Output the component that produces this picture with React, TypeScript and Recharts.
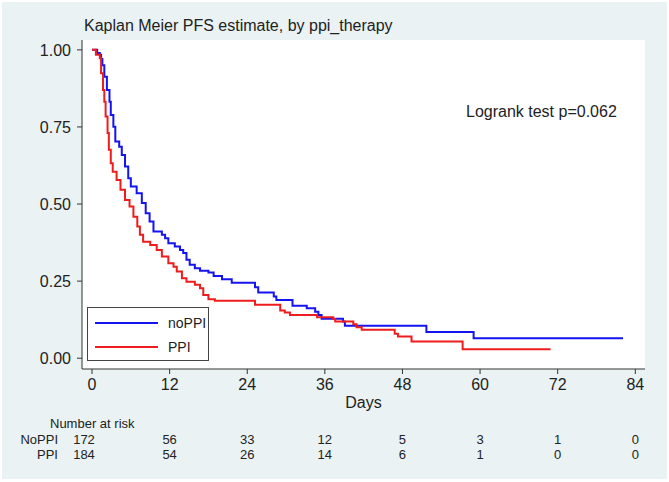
import React from 'react';
import { LineChart, Line, XAxis, YAxis } from 'recharts';

const W = 669;
const H = 482;
const PL = 82;
const PR = 645;
const PT = 40;
const PB = 369;
const X_DOMAIN: [number, number] = [-1.55, 85.5];
const Y_DOMAIN: [number, number] = [-0.035, 1.032];

const xTicks = [0, 12, 24, 36, 48, 60, 72, 84];
const yTicks = [0, 0.25, 0.5, 0.75, 1];

const noPPIDays = [0, 0.8, 1.2, 1.4, 1.6, 1.9, 2.3, 2.7, 2.9, 3.3, 3.6, 4.2, 4.6, 5.1, 5.6, 6.0, 6.9, 7.7, 8.3, 8.9, 9.5, 10.8, 11.3, 11.8, 12.8, 13.6, 14.1, 14.6, 15.1, 15.9, 16.7, 18.0, 18.8, 20.1, 21.6, 25.2, 25.7, 28.1, 28.5, 31.0, 33.2, 34.5, 35.0, 35.5, 38.8, 39.1, 51.7, 59.0, 82.1];
const noPPISurv = [1.0, 0.99, 0.984, 0.97, 0.95, 0.913, 0.87, 0.832, 0.789, 0.751, 0.703, 0.686, 0.659, 0.622, 0.584, 0.557, 0.535, 0.503, 0.47, 0.443, 0.411, 0.4, 0.389, 0.373, 0.362, 0.351, 0.341, 0.319, 0.303, 0.292, 0.284, 0.278, 0.267, 0.256, 0.245, 0.23, 0.213, 0.2, 0.189, 0.17, 0.162, 0.151, 0.14, 0.128, 0.119, 0.105, 0.085, 0.065, 0.065];

const ppiDays = [0, 0.6, 1.2, 1.4, 1.7, 1.9, 2.1, 2.4, 2.6, 2.9, 3.2, 3.8, 4.4, 5.1, 5.8, 6.4, 7.0, 7.4, 7.9, 9.0, 10.0, 10.8, 11.8, 12.6, 13.1, 13.9, 14.6, 15.9, 16.7, 17.2, 18.0, 19.0, 25.2, 29.1, 29.8, 30.6, 34.8, 37.3, 37.6, 40.4, 40.9, 41.7, 46.8, 47.3, 49.4, 57.3, 70.9];
const ppiSurv = [1.0, 0.984, 0.973, 0.924, 0.87, 0.832, 0.784, 0.73, 0.676, 0.632, 0.605, 0.578, 0.546, 0.513, 0.492, 0.459, 0.427, 0.4, 0.378, 0.367, 0.351, 0.33, 0.308, 0.297, 0.281, 0.259, 0.248, 0.238, 0.227, 0.205, 0.191, 0.186, 0.173, 0.155, 0.148, 0.14, 0.133, 0.127, 0.119, 0.11, 0.1, 0.092, 0.079, 0.07, 0.054, 0.029, 0.029];

const seriesNames = ['noPPI', 'PPI'];
const riskGroups = ['NoPPI', 'PPI'];
const riskNoPPI = [172, 56, 33, 12, 5, 3, 1, 0];
const riskPPI = [184, 54, 26, 14, 6, 1, 0, 0];

const BLUE = '#1414f0';
const RED = '#ee1c1c';
const FONT = '"Liberation Sans", Arial, sans-serif';

const noPPIData = noPPIDays.map((d, i) => ({ day: d, s: noPPISurv[i] }));
const ppiData = ppiDays.map((d, i) => ({ day: d, s: ppiSurv[i] }));

const xPix = (d: number) => PL + ((d - X_DOMAIN[0]) / (X_DOMAIN[1] - X_DOMAIN[0])) * (PR - PL);

const X_AXIS_H = 30;

export default function App() {
  return (
    <div style={{ position: 'fixed', left: 0, top: 0, width: W, height: H, background: '#ffffff', fontFamily: FONT }}>
      <div style={{ position: 'absolute', left: 2, top: 2, width: W - 4, height: H - 5, background: '#eaf2f3' }} />
      <div style={{ position: 'absolute', left: PL, top: PT, width: PR - PL, height: PB - PT, background: '#ffffff' }} />
      <div style={{ position: 'absolute', left: 84, top: 17, fontSize: 16, color: '#222', whiteSpace: 'nowrap' }}>
        Kaplan Meier PFS estimate, by ppi_therapy
      </div>
      <div style={{ position: 'absolute', left: 0, top: 0 }}>
        <LineChart width={W} height={H} margin={{ top: PT, right: W - PR, bottom: H - PB - X_AXIS_H, left: 0 }}>
          <XAxis
            dataKey="day"
            type="number"
            domain={X_DOMAIN}
            ticks={xTicks}
            allowDataOverflow
            height={X_AXIS_H}
            tickSize={5}
            tickMargin={5}
            stroke="#333"
            tick={{ fill: '#222', fontSize: 16, fontFamily: FONT }}
            tickLine={{ stroke: '#333' }}
            axisLine={{ stroke: '#333' }}
          />
          <YAxis
            dataKey="s"
            type="number"
            domain={Y_DOMAIN}
            ticks={yTicks}
            allowDataOverflow
            width={PL}
            tickSize={5}
            tickMargin={6}
            stroke="#333"
            tickFormatter={(v: number) => v.toFixed(2)}
            tick={{ fill: '#222', fontSize: 16, fontFamily: FONT }}
            tickLine={{ stroke: '#333' }}
            axisLine={{ stroke: '#333' }}
          />
          <Line data={noPPIData} dataKey="s" type="stepAfter" stroke={BLUE} strokeWidth={2} dot={false} isAnimationActive={false} name={seriesNames[0]} />
          <Line data={ppiData} dataKey="s" type="stepAfter" stroke={RED} strokeWidth={2} dot={false} isAnimationActive={false} name={seriesNames[1]} />
        </LineChart>
      </div>
      <div style={{ position: 'absolute', left: 466, top: 103, fontSize: 16, color: '#222', whiteSpace: 'nowrap' }}>
        Logrank test p=0.062
      </div>
      <div style={{ position: 'absolute', left: 87, top: 307, width: 122, height: 54, border: '1px solid #444', background: '#fff', boxSizing: 'border-box' }}>
        {[BLUE, RED].map((c, i) => (
          <div key={i} style={{ position: 'absolute', left: 7, top: 15 + i * 24 - 1, width: 63, height: 2, background: c }} />
        ))}
        {seriesNames.map((n, i) => (
          <div key={n} style={{ position: 'absolute', left: 80, top: 6 + i * 24, fontSize: 14, color: '#222', lineHeight: '18px' }}>{n}</div>
        ))}
      </div>
      <div style={{ position: 'absolute', left: 0, width: W, top: 394, textAlign: 'center', paddingLeft: 56, boxSizing: 'border-box', fontSize: 16, color: '#222' }}>
        <span style={{ position: 'absolute', left: (PL + PR) / 2 - 20, width: 40, textAlign: 'center' }}>Days</span>
      </div>
      <div style={{ position: 'absolute', left: 50, top: 416, fontSize: 13, color: '#222', whiteSpace: 'nowrap' }}>Number at risk</div>
      {[riskNoPPI, riskPPI].map((row, r) => (
        <React.Fragment key={r}>
          <div style={{ position: 'absolute', left: 0, width: 58, top: 432 + r * 15, textAlign: 'right', fontSize: 13, color: '#222' }}>{riskGroups[r]}</div>
          {row.map((v, i) => (
            <div key={i} style={{ position: 'absolute', left: xPix(xTicks[i]) - 20 - (i === 0 ? 8 : 0), width: 40, top: 432 + r * 15, textAlign: 'center', fontSize: 13, color: '#222' }}>{v}</div>
          ))}
        </React.Fragment>
      ))}
    </div>
  );
}
